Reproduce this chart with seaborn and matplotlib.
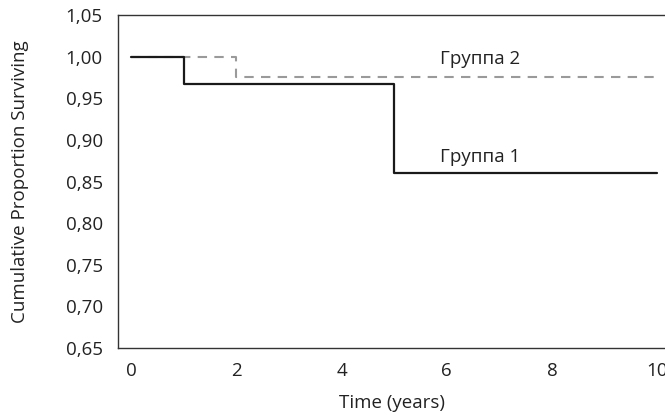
import pandas as pd
import matplotlib
matplotlib.use("Agg")
import matplotlib.pyplot as plt
import seaborn as sns

# data
group1_time = [0, 1, 5, 10]
group1_surv = [1.0, 0.967, 0.86, 0.86]
group2_time = [0, 2, 10]
group2_surv = [1.0, 0.976, 0.976]

x_ticks = [0, 2, 4, 6, 8, 10]
y_ticks = [0.65, 0.70, 0.75, 0.80, 0.85, 0.90, 0.95, 1.00, 1.05]
y_tick_labels = ["0,65", "0,70", "0,75", "0,80", "0,85", "0,90", "0,95", "1,00", "1,05"]

label1, label2 = "Группа 1", "Группа 2"

sns.set_theme(style="white")
plt.rcParams["font.family"] = ["Open Sans", "DejaVu Sans"]
FS = 13.5
TXT = "#222222"

df1 = pd.DataFrame({"time": group1_time, "surv": group1_surv})
df2 = pd.DataFrame({"time": group2_time, "surv": group2_surv})

fig = plt.figure(figsize=(6.65, 4.15), dpi=100)
ax = fig.add_axes([118 / 665, 67 / 415, 548 / 665, 333 / 415])

sns.lineplot(data=df2, x="time", y="surv", ax=ax, color="#9a9a9a",
             linewidth=1.5, drawstyle="steps-post", linestyle=(0, (4.5, 3.5)))
sns.lineplot(data=df1, x="time", y="surv", ax=ax, color="#1a1a1a",
             linewidth=1.6, drawstyle="steps-post")

ax.text(5.87, 0.997, label2, fontsize=FS, color=TXT, va="center")
ax.text(5.87, 0.880, label1, fontsize=FS, color=TXT, va="center")

ax.set_xlim(-0.25, 10.17)
ax.set_ylim(0.65, 1.05)
ax.set_xticks(x_ticks)
ax.set_yticks(y_ticks)
ax.set_yticklabels(y_tick_labels)
ax.tick_params(axis="both", length=0, labelsize=FS, labelcolor=TXT)
ax.tick_params(axis="x", pad=10)
ax.tick_params(axis="y", pad=11)

ax.set_xlabel("Time (years)", fontsize=FS, color=TXT, labelpad=10)
ax.set_ylabel("Cumulative Proportion Surviving", fontsize=FS, color=TXT, labelpad=26)

for side in ["left", "top", "bottom"]:
    ax.spines[side].set_color("#333333")
    ax.spines[side].set_linewidth(1.0)
ax.spines["right"].set_visible(False)

plt.savefig("out.png", dpi=100)
plt.close()
